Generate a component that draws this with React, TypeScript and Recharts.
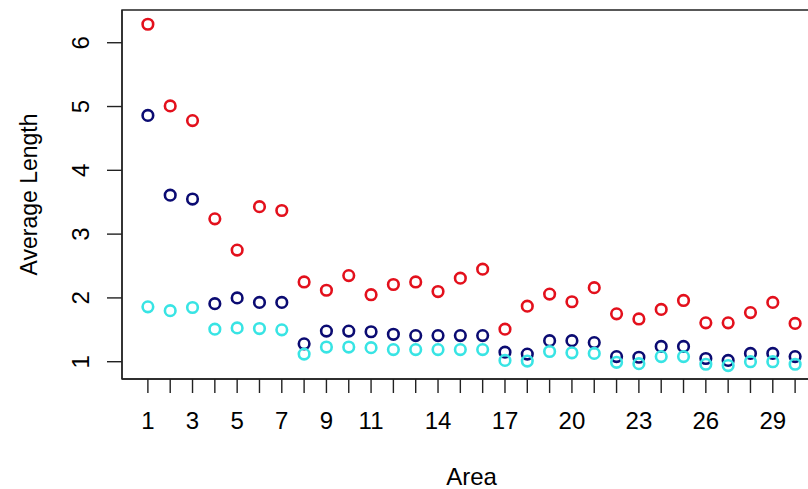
import {
  ScatterChart,
  Scatter,
  XAxis,
  YAxis,
  ReferenceArea,
} from "recharts";

// average length per area, one array per group
const areas = [
  1, 2, 3, 4, 5, 6, 7, 8, 9, 10, 11, 12, 13, 14, 15,
  16, 17, 18, 19, 20, 21, 22, 23, 24, 25, 26, 27, 28, 29, 30,
];
const redValues = [
  6.29, 5.01, 4.78, 3.24, 2.75, 3.43, 3.37, 2.25, 2.12, 2.35, 2.05, 2.21, 2.25, 2.1, 2.31,
  2.45, 1.51, 1.87, 2.06, 1.94, 2.16, 1.75, 1.67, 1.82, 1.96, 1.61, 1.61, 1.77, 1.93, 1.6,
];
const navyValues = [
  4.86, 3.61, 3.55, 1.91, 2.0, 1.93, 1.93, 1.28, 1.48, 1.48, 1.47, 1.43, 1.41, 1.41, 1.41,
  1.41, 1.15, 1.12, 1.33, 1.33, 1.3, 1.08, 1.07, 1.24, 1.24, 1.05, 1.02, 1.13, 1.13, 1.08,
];
const cyanValues = [
  1.86, 1.8, 1.85, 1.51, 1.53, 1.52, 1.5, 1.12, 1.23, 1.23, 1.22, 1.19, 1.19, 1.19, 1.19,
  1.19, 1.02, 1.01, 1.16, 1.14, 1.13, 0.99, 0.97, 1.08, 1.08, 0.96, 0.94, 1.0, 1.0, 0.96,
];
const labeledAreas = [1, 3, 5, 7, 9, 11, 14, 17, 20, 23, 26, 29];
const yTicks = [1, 2, 3, 4, 5, 6];

const FONT = "'Liberation Sans', Arial, Helvetica, sans-serif";

// R-style range: data range padded by 4% on each side
const X_DOMAIN = [-0.16, 31.16];
const Y_DOMAIN = [0.729, 6.513];

const toPoints = (values: number[]) =>
  areas.map((a, i) => ({ area: a, value: values[i] }));

const ring = (color: string) => (props: any) => (
  <circle
    cx={props.cx}
    cy={props.cy}
    r={5.3}
    fill="none"
    stroke={color}
    strokeWidth={2.6}
  />
);

const TICK_SIZE = 24;

const renderXTick = ({ x, y, payload }: any) => {
  if (!labeledAreas.includes(payload.value)) return <g />;
  return (
    <text
      x={x}
      y={y}
      dy={34}
      textAnchor="middle"
      fontSize={TICK_SIZE}
      fontFamily={FONT}
      fill="#000"
    >
      {payload.value}
    </text>
  );
};

const renderYTick = ({ x, y, payload }: any) => {
  const bx = x - 16;
  return (
    <text
      x={bx}
      y={y}
      transform={`rotate(-90, ${bx}, ${y})`}
      textAnchor="middle"
      fontSize={TICK_SIZE}
      fontFamily={FONT}
      fill="#000"
    >
      {payload.value}
    </text>
  );
};

const yTitle = (props: any) => {
  const vb = props.viewBox || { y: 10, height: 369 };
  const cy = vb.y + vb.height / 2;
  return (
    <text
      x={37}
      y={cy}
      transform={`rotate(-90, 37, ${cy})`}
      textAnchor="middle"
      fontSize={23}
      fontFamily={FONT}
      fill="#000"
    >
      Average Length
    </text>
  );
};

export default function App() {
  return (
    <div
      style={{
        position: "absolute",
        left: 0,
        top: 0,
        width: 808,
        height: 489,
        overflow: "hidden",
        background: "#fff",
      }}
    >
      <ScatterChart
        width={830}
        height={489}
        margin={{ top: 10, right: 9, bottom: 0, left: 0 }}
      >
        <XAxis
          type="number"
          dataKey="area"
          domain={X_DOMAIN}
          ticks={areas}
          interval={0}
          allowDataOverflow
          height={110}
          tickSize={14}
          tick={renderXTick}
          axisLine={{ stroke: "#222", strokeWidth: 1.4 }}
          tickLine={{ stroke: "#222", strokeWidth: 1.4 }}
          label={{
            value: "Area",
            position: "insideBottom",
            offset: 4,
            fontSize: 24,
            fontFamily: FONT,
            fill: "#000",
          }}
        />
        <YAxis
          type="number"
          dataKey="value"
          domain={Y_DOMAIN}
          ticks={yTicks}
          interval={0}
          allowDataOverflow
          width={122}
          tickSize={15}
          tick={renderYTick}
          axisLine={{ stroke: "#222", strokeWidth: 1.4 }}
          tickLine={{ stroke: "#222", strokeWidth: 1.4 }}
          label={yTitle}
        />
        <ReferenceArea
          x1={X_DOMAIN[0]}
          x2={X_DOMAIN[1]}
          y1={Y_DOMAIN[0]}
          y2={Y_DOMAIN[1]}
          fill="none"
          stroke="#222"
          strokeWidth={1.4}
          ifOverflow="visible"
        />
        <Scatter data={toPoints(redValues)} shape={ring("#e3101c")} isAnimationActive={false} />
        <Scatter data={toPoints(navyValues)} shape={ring("#0b0b72")} isAnimationActive={false} />
        <Scatter data={toPoints(cyanValues)} shape={ring("#38e4e4")} isAnimationActive={false} />
      </ScatterChart>
    </div>
  );
}
